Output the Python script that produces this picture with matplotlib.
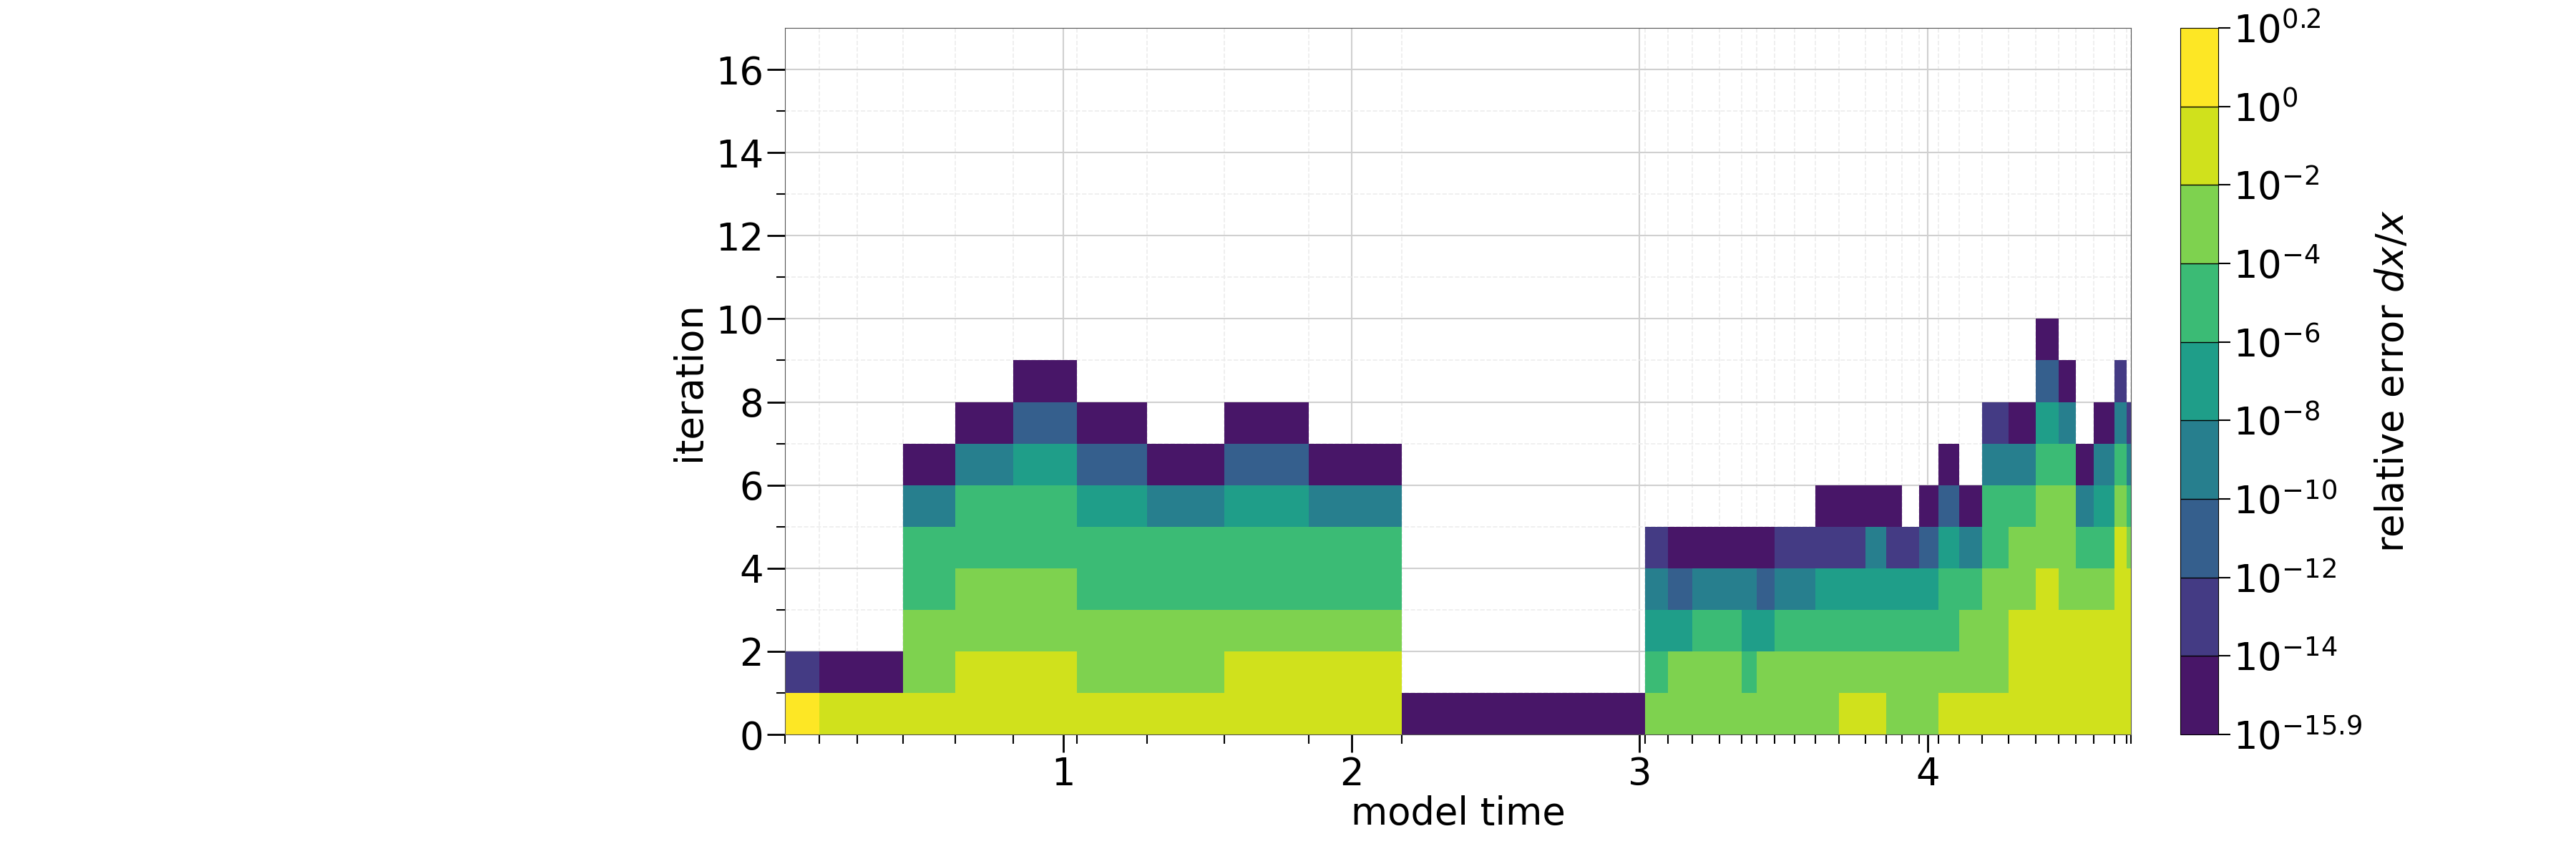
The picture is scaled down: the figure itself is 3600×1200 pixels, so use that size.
import numpy as np
import matplotlib
matplotlib.use("Agg")
import matplotlib.pyplot as plt
from matplotlib.colors import BoundaryNorm, ListedColormap

# cell edges in model time (one column per time step)
x_edges = [0.035, 0.154, 0.286, 0.445, 0.627, 0.828, 1.047, 1.291, 1.560, 1.851, 2.174,
           3.020, 3.097, 3.182, 3.276, 3.353, 3.405, 3.468, 3.537, 3.609, 3.692, 3.784,
           3.856, 3.910, 3.970, 4.037, 4.109, 4.189, 4.279, 4.373, 4.453, 4.512, 4.575,
           4.647, 4.689, 4.704]

# log10 relative error per iteration (bottom row first) for each time step
E = [-15.0, -13.0, -11.0, -9.0, -7.0, -5.0, -3.0, -1.0, 0.1]
col_classes = [
    [8, 1], [7, 0], [7, 0],
    [7, 6, 6, 5, 5, 3, 0],
    [7, 7, 6, 6, 5, 5, 3, 0],
    [7, 7, 6, 6, 5, 5, 4, 2, 0],
    [7, 6, 6, 5, 5, 4, 2, 0],
    [7, 6, 6, 5, 5, 3, 0],
    [7, 7, 6, 5, 5, 4, 2, 0],
    [7, 7, 6, 5, 5, 3, 0],
    [0],
    [6, 5, 4, 3, 1], [6, 6, 4, 2, 0], [6, 6, 5, 3, 0], [6, 6, 5, 3, 0],
    [6, 5, 4, 3, 0], [6, 6, 4, 2, 0], [6, 6, 5, 3, 1], [6, 6, 5, 3, 1],
    [6, 6, 5, 4, 1, 0], [7, 6, 5, 4, 1, 0], [7, 6, 5, 4, 3, 0], [6, 6, 5, 4, 1, 0],
    [6, 6, 5, 4, 1], [6, 6, 5, 4, 2, 0], [7, 6, 5, 5, 4, 2, 0], [7, 6, 6, 5, 3, 0],
    [7, 6, 6, 6, 5, 5, 3, 1], [7, 7, 7, 6, 6, 5, 3, 0],
    [7, 7, 7, 7, 6, 6, 5, 4, 2, 0], [7, 7, 7, 6, 6, 6, 5, 3, 0],
    [7, 7, 7, 6, 5, 3, 0], [7, 7, 7, 6, 5, 4, 3, 0],
    [7, 7, 7, 7, 7, 6, 5, 3, 1], [7, 7, 7, 7, 6, 5, 3, 1],
]
levels = [-15.9, -14, -12, -10, -8, -6, -4, -2, 0, 0.2]
level_labels = ["$10^{-15.9}$", "$10^{-14}$", "$10^{-12}$", "$10^{-10}$", "$10^{-8}$",
                "$10^{-6}$", "$10^{-4}$", "$10^{-2}$", "$10^{0}$", "$10^{0.2}$"]
bin_colors = ["#481668", "#443b84", "#355f8d", "#277f8e", "#1f9e89",
              "#3bbb75", "#7ed24f", "#d0e11c", "#fde725"]

n_rows = 17
Z = np.full((n_rows, len(col_classes)), np.nan)
for j, col in enumerate(col_classes):
    for i, k in enumerate(col):
        Z[i, j] = E[k]
y_edges = np.arange(n_rows + 1)

plt.rcParams["font.size"] = 38
fig = plt.figure(figsize=(36, 12), dpi=100)
ax = fig.add_axes([0.3047, 0.145, 0.5225, 0.8225])
cax = fig.add_axes([0.8464, 0.145, 0.0147, 0.8225])

cmap = ListedColormap(bin_colors)
norm = BoundaryNorm(levels, cmap.N)
mesh = ax.pcolormesh(x_edges, y_edges, np.ma.masked_invalid(Z), cmap=cmap, norm=norm)

ax.set_xlim(x_edges[0], x_edges[-1])
ax.set_ylim(0, 17)
ax.set_xticks([1, 2, 3, 4])
ax.set_xticks(x_edges, minor=True)
ax.set_yticks(range(0, 17, 2))
ax.set_yticks(range(1, 17, 2), minor=True)
ax.tick_params(which="major", direction="out", length=18, width=2)
ax.tick_params(which="minor", direction="out", length=9, width=1.5)
ax.grid(which="major", color="#d0d0d0", lw=1.5)
ax.grid(which="minor", color="#ececec", lw=1.2, ls="--")
ax.set_axisbelow(True)
for s in ax.spines.values():
    s.set_color("#555555")
ax.set_xlabel("model time", labelpad=2)
ax.set_ylabel("iteration", labelpad=8)

cb = fig.colorbar(mesh, cax=cax, ticks=levels, drawedges=True)
cb.dividers.set_linewidth(1)
cb.ax.set_yticklabels(level_labels)
cb.ax.tick_params(length=12, width=1.5)
cb.set_label("relative error $dx/x$", labelpad=12)

fig.savefig("out.png")
